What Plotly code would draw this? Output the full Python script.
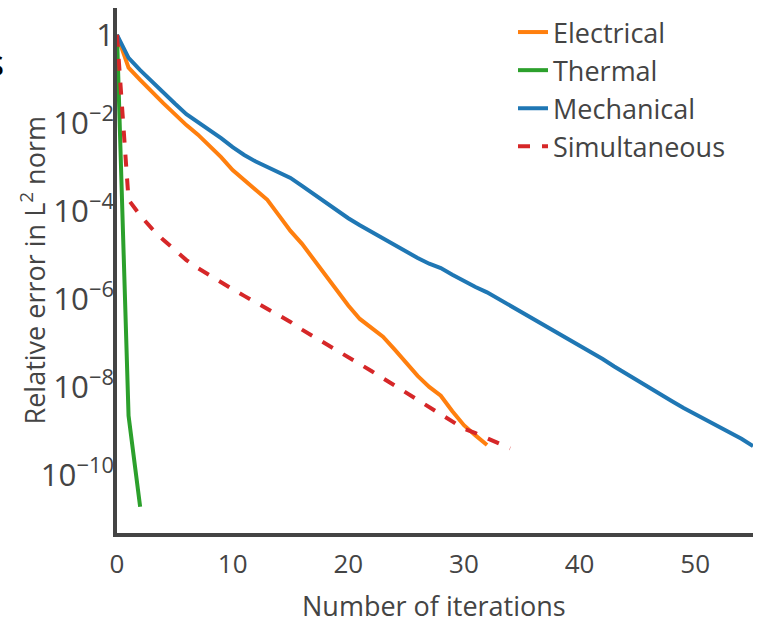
import plotly.graph_objects as go

# ---- data ----
elec_iter = list(range(0, 33))
elec_err = [1, 1.8e-1, 9.5e-2, 5.0e-2, 2.8e-2, 1.58e-2, 8.9e-3, 5.4e-3, 3.0e-3, 1.66e-3,
            8.5e-4, 5.0e-4, 3.0e-4, 1.78e-4, 7.9e-5, 3.5e-5, 1.78e-5, 7.9e-6, 3.8e-6, 1.58e-6,
            7.1e-7, 3.5e-7, 2.2e-7, 1.38e-7, 7.1e-8, 3.5e-8, 1.78e-8, 1.0e-8, 6.3e-9, 2.8e-9,
            1.35e-9, 7.9e-10, 4.8e-10]

therm_iter = [0, 1, 2]
therm_err = [1, 2.2e-9, 1.9e-11]

mech_iter = list(range(0, 56))
mech_err = [1, 3.0e-1, 1.58e-1, 8.7e-2, 4.8e-2, 2.75e-2, 1.58e-2, 1.05e-2, 6.8e-3, 4.5e-3,
            2.8e-3, 1.86e-3, 1.32e-3, 1.0e-3, 7.6e-4, 5.6e-4, 3.7e-4, 2.4e-4, 1.58e-4, 1.0e-4,
            6.8e-5, 4.7e-5, 3.3e-5, 2.4e-5, 1.7e-5, 1.2e-5, 8.5e-6, 6.3e-6, 5.0e-6, 3.55e-6,
            2.5e-6, 1.86e-6, 1.41e-6, 1.0e-6, 7.1e-7, 4.8e-7, 3.4e-7, 2.4e-7, 1.78e-7, 1.26e-7,
            8.9e-8, 6.3e-8, 4.3e-8, 2.9e-8, 2.0e-8, 1.35e-8, 9.3e-9, 6.6e-9, 4.7e-9, 3.3e-9,
            2.4e-9, 1.74e-9, 1.26e-9, 9.1e-10, 6.6e-10, 4.5e-10]

simul_iter = list(range(0, 35))
simul_err = [1, 1.78e-4, 7.9e-5, 4.0e-5, 2.2e-5, 1.26e-5, 7.6e-6, 5.0e-6, 3.4e-6, 2.3e-6,
             1.66e-6, 1.17e-6, 8.3e-7, 5.9e-7, 4.2e-7, 3.0e-7, 2.0e-7, 1.38e-7, 9.5e-8, 6.6e-8,
             4.7e-8, 3.3e-8, 2.3e-8, 1.58e-8, 1.07e-8, 7.4e-9, 5.0e-9, 3.4e-9, 2.3e-9, 1.58e-9,
             1.12e-9, 8.9e-10, 6.8e-10, 5.2e-10, 4.0e-10]

series_names = ["Electrical", "Thermal", "Mechanical", "Simultaneous"]
colors = ["#ff7f0e", "#2ca02c", "#1f77b4", "#d62728"]
x_ticks = [0, 10, 20, 30, 40, 50]
y_title = "Relative error in L<sup>2</sup> norm"
x_title = "Number of iterations"

FONT = "Open Sans"
GREY = "#444"

fig = go.Figure()
data = [(elec_iter, elec_err), (therm_iter, therm_err), (mech_iter, mech_err), (simul_iter, simul_err)]
for (xs, ys), name, col in zip(data, series_names, colors):
    fig.add_trace(go.Scatter(
        x=xs, y=ys, name=name, mode="lines",
        line=dict(color=col, width=4, dash="dash" if name == "Simultaneous" else "solid"),
    ))

L, R, T, B = 117, 4, 8, 84
W, H = 757, 617
pw = W - L - R
ph = H - T - B

fig.update_layout(
    width=W, height=H,
    margin=dict(l=L, r=R, t=T, b=B),
    paper_bgcolor="white", plot_bgcolor="white",
    font=dict(family=FONT, color=GREY, size=27),
    showlegend=True,
    legend=dict(x=(513 - L) / pw, y=1.0, xanchor="left", yanchor="top",
                font=dict(size=27, color=GREY), bgcolor="rgba(0,0,0,0)"),
    xaxis=dict(
        range=[0, 55], tickvals=x_ticks, ticks="", showgrid=False, zeroline=False,
        showline=True, linewidth=4, linecolor=GREY, automargin=False,
        tickfont=dict(size=26, color=GREY), ticklabelstandoff=5,
    ),
    yaxis=dict(
        type="log", range=[-11.32, 0.61], dtick=2, exponentformat="power", showexponent="all",
        ticks="", showgrid=False, zeroline=False, automargin=False,
        showline=True, linewidth=4, linecolor=GREY,
        tickfont=dict(size=25, color=GREY), ticklabelstandoff=-6,
    ),
)

# axis titles placed as text at their reference positions
fig.add_annotation(
    text=y_title, xref="paper", yref="paper",
    x=(33 - L) / pw, y=0.5, xanchor="center", yanchor="middle", textangle=-90,
    showarrow=False, font=dict(family=FONT, size=27, color=GREY),
)
fig.add_annotation(
    text=x_title, xref="paper", yref="paper",
    x=0.5 - 1.5 / pw, y=(H - B - 605) / ph, xanchor="center", yanchor="middle",
    showarrow=False, font=dict(family=FONT, size=27, color=GREY),
)

fig.add_annotation(
    text="s", xref="paper", yref="paper",
    x=(6 - L) / pw, y=(H - B - 62) / ph, xanchor="right", yanchor="middle",
    showarrow=False, font=dict(family=FONT, size=36, color="black"),
)

fig.write_html("out.html", config={"displayModeBar": False},
               post_script="document.body.style.margin='0';")
